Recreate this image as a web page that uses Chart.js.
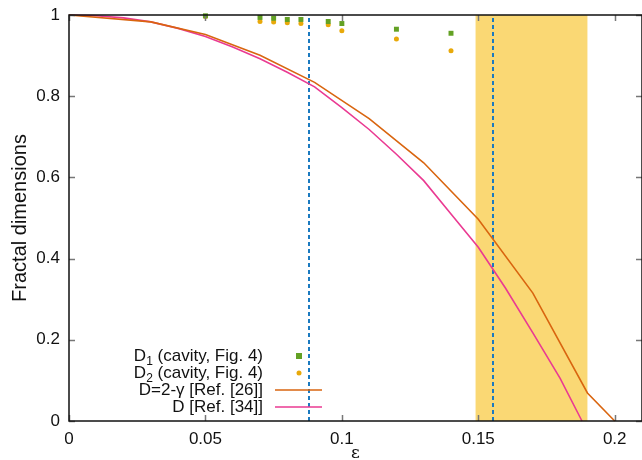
<!DOCTYPE html>
<html>
<head>
<meta charset="utf-8">
<script src="https://cdn.jsdelivr.net/npm/chart.js@4.4.1/dist/chart.umd.min.js"></script>
<style>
  body { margin: 0; background: #fff; }
  #wrap { width: 642px; height: 460px; }
</style>
</head>
<body>
<div id="wrap"><canvas id="fd"></canvas></div>
<script>
// cavity data, Fig. 4
const cavEps = [0.05, 0.07, 0.075, 0.08, 0.085, 0.095, 0.1, 0.12, 0.14];
const cavD1 = [0.998, 0.994, 0.992, 0.989, 0.989, 0.984, 0.979, 0.965, 0.955];
const cavD2 = [0.996, 0.984, 0.983, 0.981, 0.979, 0.976, 0.961, 0.941, 0.912];

// D = 2 - gamma [Ref. 26]
const gamEps = [0, 0.03, 0.05, 0.07, 0.09, 0.11, 0.13, 0.15, 0.17, 0.19, 0.2];
const gamD = [1, 0.983, 0.952, 0.901, 0.834, 0.745, 0.636, 0.497, 0.315, 0.069, 0];

// D [Ref. 34]
const refEps = [0, 0.01, 0.02, 0.03, 0.04, 0.05, 0.06, 0.07, 0.08, 0.09, 0.1, 0.11, 0.12, 0.13, 0.14, 0.15, 0.16, 0.17, 0.18, 0.188];
const refD = [1, 0.998, 0.993, 0.983, 0.967, 0.947, 0.921, 0.892, 0.859, 0.823, 0.772, 0.718, 0.657, 0.592, 0.51, 0.428, 0.327, 0.217, 0.105, 0];

const bandRange = [0.149, 0.19];
const dashedEps = [0.088, 0.1555];

const xTicks = [0, 0.05, 0.1, 0.15, 0.2];
const yTicks = [0, 0.2, 0.4, 0.6, 0.8, 1];

const cGreen = '#63a124';
const cGold = '#e8a90a';
const cOrange = '#d9650f';
const cPink = '#ea3a92';
const cBlue = '#1b7ac0';
const cBand = '#fad874';
const font = "'Liberation Sans', Arial, sans-serif";

const pts = (xs, ys) => xs.map((x, i) => ({ x: x, y: ys[i] }));

// shaded band, dashed lines, frame with inward ticks, legend
const decor = {
    id: 'decor',
    beforeDatasetsDraw(chart) {
        const { ctx, chartArea: a, scales: { x } } = chart;
        ctx.save();
        ctx.fillStyle = cBand;
        const b0 = x.getPixelForValue(bandRange[0]);
        const b1 = x.getPixelForValue(bandRange[1]);
        ctx.fillRect(b0, a.top, b1 - b0, a.bottom - a.top);
        ctx.strokeStyle = cBlue;
        ctx.lineWidth = 2;
        ctx.setLineDash([4, 3]);
        dashedEps.forEach(e => {
            const px = Math.round(x.getPixelForValue(e));
            ctx.beginPath();
            ctx.moveTo(px, a.bottom);
            ctx.lineTo(px, a.top);
            ctx.stroke();
        });
        ctx.restore();
    },
    afterDatasetsDraw(chart) {
        const { ctx, chartArea: a, scales: { x, y } } = chart;
        ctx.save();
        ctx.strokeStyle = '#777';
        ctx.lineWidth = 1.5;
        const t = 6;
        xTicks.forEach(v => {
            const px = Math.round(x.getPixelForValue(v)) + 0.5;
            ctx.beginPath();
            ctx.moveTo(px, a.bottom); ctx.lineTo(px, a.bottom - t);
            ctx.moveTo(px, a.top); ctx.lineTo(px, a.top + t);
            ctx.stroke();
        });
        yTicks.forEach(v => {
            const py = Math.round(y.getPixelForValue(v)) + 0.5;
            ctx.beginPath();
            ctx.moveTo(a.left, py); ctx.lineTo(a.left + t, py);
            ctx.moveTo(a.right, py); ctx.lineTo(a.right - t, py);
            ctx.stroke();
        });
        ctx.strokeStyle = '#111';
        ctx.lineWidth = 1.5;
        ctx.strokeRect(a.left, a.top, a.right - a.left, a.bottom - a.top);

        // y axis title
        ctx.fillStyle = '#111';
        ctx.save();
        ctx.translate(20, (a.top + a.bottom) / 2);
        ctx.rotate(-Math.PI / 2);
        ctx.textAlign = 'center';
        ctx.textBaseline = 'middle';
        ctx.font = '20px ' + font;
        ctx.fillText('Fractal dimensions', 0, 0);
        ctx.restore();

        // legend
        const right = 263, s0 = 275, s1 = 322;
        const rows = [356, 373, 390, 407];
        ctx.textBaseline = 'middle';
        const sub = (main, idx, rest, yy) => {
            ctx.font = '17px ' + font;
            const w1 = ctx.measureText(main).width;
            const w3 = ctx.measureText(rest).width;
            ctx.font = '12px ' + font;
            const w2 = ctx.measureText(idx).width;
            const xx = right - w1 - w2 - w3;
            ctx.textAlign = 'left';
            ctx.font = '17px ' + font;
            ctx.fillText(main, xx, yy);
            ctx.font = '12px ' + font;
            ctx.fillText(idx, xx + w1, yy + 6);
            ctx.font = '17px ' + font;
            ctx.fillText(rest, xx + w1 + w2, yy);
        };
        sub('D', '1', ' (cavity, Fig. 4)', rows[0]);
        sub('D', '2', ' (cavity, Fig. 4)', rows[1]);
        ctx.textAlign = 'right';
        ctx.font = '17px ' + font;
        ctx.fillText('D=2-\u03b3 [Ref. [26]]', right, rows[2]);
        ctx.fillText('D [Ref. [34]]', right, rows[3]);
        ctx.fillStyle = cGreen;
        ctx.fillRect(296, rows[0] - 3, 6, 6);
        ctx.fillStyle = cGold;
        ctx.beginPath(); ctx.arc(299, rows[1], 2.5, 0, Math.PI * 2); ctx.fill();
        ctx.lineWidth = 1.6;
        ctx.strokeStyle = cOrange;
        ctx.beginPath(); ctx.moveTo(s0, rows[2]); ctx.lineTo(s1, rows[2]); ctx.stroke();
        ctx.strokeStyle = cPink;
        ctx.beginPath(); ctx.moveTo(s0, rows[3]); ctx.lineTo(s1, rows[3]); ctx.stroke();
        ctx.restore();
    }
};

new Chart(document.getElementById('fd'), {
    type: 'scatter',
    data: {
        datasets: [
            {
                label: 'D=2-\u03b3 [Ref. [26]]',
                data: pts(gamEps, gamD),
                showLine: true,
                borderColor: cOrange,
                borderWidth: 1.6,
                pointRadius: 0,
                tension: 0
            },
            {
                label: 'D [Ref. [34]]',
                data: pts(refEps, refD),
                showLine: true,
                borderColor: cPink,
                borderWidth: 1.6,
                pointRadius: 0,
                tension: 0
            },
            {
                label: 'D1 (cavity, Fig. 4)',
                data: pts(cavEps, cavD1),
                pointStyle: 'rect',
                pointRadius: 3.5,
                pointBorderWidth: 0,
                backgroundColor: cGreen,
                borderColor: cGreen
            },
            {
                label: 'D2 (cavity, Fig. 4)',
                data: pts(cavEps, cavD2),
                pointStyle: 'circle',
                pointRadius: 2.5,
                pointBorderWidth: 0,
                backgroundColor: cGold,
                borderColor: cGold
            }
        ]
    },
    options: {
        responsive: true,
        maintainAspectRatio: false,
        animation: false,
        clip: false,
        layout: { autoPadding: false, padding: { top: 15, right: 0, left: 0, bottom: 0 } },
        plugins: { legend: { display: false }, tooltip: { enabled: false } },
        scales: {
            x: {
                type: 'linear',
                min: 0,
                max: 0.21,
                afterFit: s => { s.height = 39; s.paddingLeft = 0; s.paddingRight = 0; },
                afterBuildTicks: s => { s.ticks = xTicks.map(v => ({ value: v })); },
                grid: { display: false },
                border: { display: false },
                ticks: {
                    color: '#111',
                    padding: 0,
                    font: { family: font, size: 17 },
                    callback: v => String(v)
                },
                title: {
                    display: true,
                    text: '\u03b5',
                    color: '#111',
                    padding: { top: 0, bottom: -4 },
                    font: { family: "'DejaVu Serif', serif", size: 17 }
                }
            },
            y: {
                min: 0,
                max: 1,
                afterFit: s => { s.width = 69; s.paddingTop = 0; s.paddingBottom = 0; },
                afterBuildTicks: s => { s.ticks = yTicks.map(v => ({ value: v })); },
                grid: { display: false },
                border: { display: false },
                ticks: {
                    color: '#111',
                    padding: 1,
                    font: { family: font, size: 17 },
                    callback: v => String(v)
                }
            }
        }
    },
    plugins: [decor]
});
</script>
</body>
</html>
